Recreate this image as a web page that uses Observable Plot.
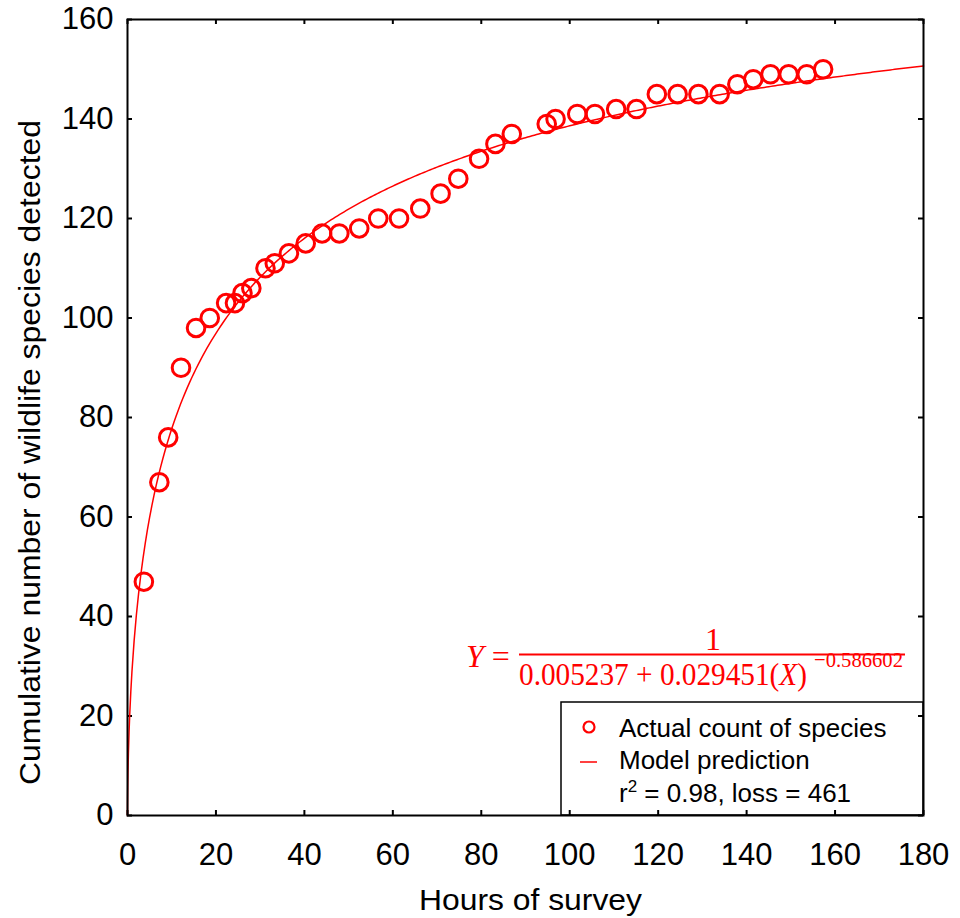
<!DOCTYPE html>
<html>
<head>
<meta charset="utf-8">
<script src="https://cdn.jsdelivr.net/npm/d3@7"></script>
<script src="https://cdn.jsdelivr.net/npm/@observablehq/plot@0.6"></script>
<style>
  html, body { margin: 0; padding: 0; background: #fff; }
  #chart svg { display: block; }
</style>
</head>
<body>
<div id="chart"></div>
<script>
// Observed cumulative species counts
const hours = [3.7, 7.2, 9.2, 12.1, 15.5, 18.6, 22.3, 24.3, 26.0, 28.0, 31.2, 33.3, 36.5, 40.3, 44.0, 47.9, 52.4, 56.7, 61.4, 66.2, 70.8, 74.8, 79.5, 83.2, 86.9, 94.8, 96.8, 101.7, 105.7, 110.5, 115.1, 119.7, 124.4, 129.1, 133.9, 137.9, 141.5, 145.4, 149.5, 153.6, 157.3];
const species = [47, 67, 76, 90, 98, 100, 103, 103, 105, 106, 110, 111, 113, 115, 117, 117, 118, 120, 120, 122, 125, 128, 132, 135, 137, 139, 140, 141, 141, 142, 142, 145, 145, 145, 145, 147, 148, 149, 149, 149, 150];

// Model: Y = 1 / (a + b * X^c)  (coefficients as printed on the chart)
const modelA = 0.005237;
const modelB = 0.029451;
const modelC = -0.586602;

const xTicks = [0, 20, 40, 60, 80, 100, 120, 140, 160, 180];
const yTicks = [0, 20, 40, 60, 80, 100, 120, 140, 160];

const xLabel = "Hours of survey";
const yLabel = "Cumulative number of wildlife species detected";
const legendLabels = ["Actual count of species", "Model prediction"];
const fitStats = { r2: "0.98", loss: "461" };

const points = hours.map((h, i) => ({ h, s: species[i] }));
const modelHours = [0, 0.005, 0.02, 0.05, 0.1, 0.2, 0.35, 0.5, 0.75].concat(d3.range(1, 180.01, 0.5));
const model = modelHours.map(h => ({ h, s: 1 / (modelA + modelB * Math.pow(h, modelC)) }));

const W = 960, H = 918;
const mL = 127, mR = 37, mT = 19, mB = 103;
const frameH = H - mT - mB;
const frameW = W - mL - mR;
const tickLen = 5;
const red = "#ff0000";

const plot = Plot.plot({
  width: W,
  height: H,
  marginLeft: mL,
  marginRight: mR,
  marginTop: mT,
  marginBottom: mB,
  style: { fontFamily: "'Liberation Sans', Arial, sans-serif", fontSize: "31px", color: "#000", background: "#fff" },
  x: { domain: [0, 180], ticks: xTicks },
  y: { domain: [0, 160], ticks: yTicks },
  marks: [
    Plot.axisX({ ticks: xTicks, tickSize: 0, tickPadding: 27, label: null, fontSize: 31 }),
    Plot.axisY({ ticks: yTicks, tickSize: 0, tickPadding: 14, label: null, fontSize: 31 }),
    // inward ticks on all four sides
    Plot.tickX(xTicks, { x: d => d, insetTop: frameH - tickLen, stroke: "#000", strokeWidth: 2 }),
    Plot.tickX(xTicks, { x: d => d, insetBottom: frameH - tickLen, stroke: "#000", strokeWidth: 2 }),
    Plot.tickY(yTicks, { y: d => d, insetRight: frameW - tickLen, stroke: "#000", strokeWidth: 2 }),
    Plot.tickY(yTicks, { y: d => d, insetLeft: frameW - tickLen, stroke: "#000", strokeWidth: 2 }),
    Plot.line(model, { x: "h", y: "s", stroke: red, strokeWidth: 1.5 }),
    Plot.dot(points, { x: "h", y: "s", r: 8.8, stroke: red, strokeWidth: 3, fill: "none" }),
    Plot.frame({ stroke: "#000", strokeWidth: 2 }),
    Plot.text([xLabel], { text: d => d, frameAnchor: "bottom", textAnchor: "middle", dx: 5, dy: 85, lineAnchor: "middle", fontSize: 30 }),
    Plot.text([yLabel], { text: d => d, frameAnchor: "left", textAnchor: "middle", rotate: -90, dx: -97, dy: 35, fontSize: 30 })
  ]
});

document.getElementById("chart").appendChild(plot);

const svg = d3.select(plot);

// Condensed axis titles, as in the reference
svg.selectAll("text").filter(function () { return this.textContent === yLabel; })
  .attr("textLength", 665).attr("lengthAdjust", "spacingAndGlyphs");
svg.selectAll("text").filter(function () { return this.textContent === xLabel; })
  .attr("textLength", 223).attr("lengthAdjust", "spacingAndGlyphs");

// Equation annotation
const eq = svg.append("g")
  .attr("fill", red)
  .attr("text-anchor", "start")
  .style("font-family", "'Liberation Serif', 'DejaVu Serif', serif");
eq.append("text")
  .attr("x", 466).attr("y", 667)
  .style("font-size", "32px")
  .html('<tspan font-style="italic">Y</tspan> =');
eq.append("text")
  .attr("x", 713).attr("y", 650)
  .attr("text-anchor", "middle")
  .style("font-size", "32px")
  .text(String(1));
eq.append("line")
  .attr("x1", 519).attr("x2", 905)
  .attr("y1", 654.5).attr("y2", 654.5)
  .attr("stroke", red).attr("stroke-width", 2);
eq.append("text")
  .attr("x", 519).attr("y", 685)
  .attr("textLength", 288).attr("lengthAdjust", "spacingAndGlyphs")
  .style("font-size", "31px")
  .html(`${modelA.toFixed(6)} + ${modelB.toFixed(6)}(<tspan font-style="italic">X</tspan>)`);
eq.append("text")
  .attr("x", 814).attr("y", 667)
  .attr("textLength", 89).attr("lengthAdjust", "spacingAndGlyphs")
  .style("font-size", "22px")
  .text("\u2212" + Math.abs(modelC).toFixed(6));

// Legend box
const lg = svg.append("g")
  .attr("text-anchor", "start")
  .style("font-family", "'Liberation Sans', Arial, sans-serif")
  .style("font-size", "26px");
lg.append("rect")
  .attr("x", 561).attr("y", 702)
  .attr("width", W - mR - 561).attr("height", H - mB - 702)
  .attr("fill", "none").attr("stroke", "#000").attr("stroke-width", 1.5);
lg.append("circle")
  .attr("cx", 589).attr("cy", 727).attr("r", 5.5)
  .attr("fill", "none").attr("stroke", red).attr("stroke-width", 2.2);
lg.append("line")
  .attr("x1", 580).attr("x2", 597).attr("y1", 762).attr("y2", 762)
  .attr("stroke", red).attr("stroke-width", 1.5);
lg.append("text").attr("x", 619).attr("y", 737).text(legendLabels[0]);
lg.append("text").attr("x", 619).attr("y", 769).text(legendLabels[1]);
lg.append("text").attr("x", 619).attr("y", 802)
  .html(`r<tspan dy="-10" font-size="17px">2</tspan><tspan dy="10"> = ${fitStats.r2}, loss = ${fitStats.loss}</tspan>`);
</script>
</body>
</html>
